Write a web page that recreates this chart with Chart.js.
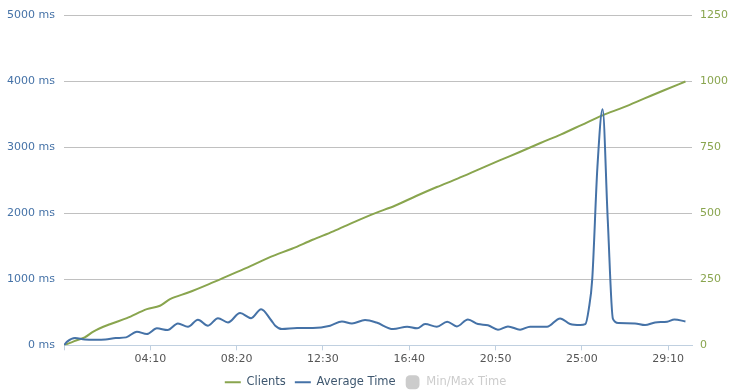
<!DOCTYPE html>
<html>
<head>
<meta charset="utf-8">
<script src="https://cdn.jsdelivr.net/npm/chart.js@4/dist/chart.umd.min.js"></script>
<style>
  html, body { margin: 0; padding: 0; background: #fff; }
  #c { display: block; }
</style>
</head>
<body>
<canvas id="c" width="731" height="391"></canvas>
<script>
// Elapsed time (seconds) and average response time (ms)
const avgTimes = [0, 10, 32, 60, 90, 120, 150, 180, 211, 240, 269, 300, 330, 359, 388, 417, 446, 475, 510, 542, 571, 600, 612, 631, 675, 721, 771, 805, 834, 872, 905, 953, 994, 1023, 1046, 1080, 1110, 1138, 1170, 1199, 1228, 1257, 1286, 1321, 1350, 1399, 1437, 1466, 1495, 1510, 1520, 1530, 1545, 1560, 1575, 1590, 1606, 1654, 1683, 1712, 1747, 1768, 1800];
const avgValues = [0, 60, 110, 88, 85, 88, 110, 120, 207, 171, 257, 232, 332, 282, 388, 297, 412, 347, 488, 412, 548, 380, 297, 246, 261, 261, 297, 362, 332, 382, 345, 246, 282, 257, 322, 282, 358, 287, 393, 322, 305, 237, 287, 237, 282, 282, 408, 322, 307, 320, 550, 1000, 2700, 3580, 1900, 400, 337, 332, 307, 347, 358, 393, 362];

// Elapsed time (seconds) and number of clients
const clientTimes = [0, 30, 60, 85, 133, 182, 240, 278, 307, 360, 420, 480, 540, 600, 660, 720, 780, 840, 900, 960, 1020, 1080, 1140, 1200, 1260, 1320, 1380, 1440, 1500, 1560, 1620, 1680, 1740, 1800];
const clientValues = [0, 16, 30, 52, 80, 103, 137, 150, 175, 200, 232, 266, 300, 336, 366, 400, 432, 467, 500, 530, 566, 600, 632, 666, 700, 733, 767, 800, 836, 872, 902, 935, 968, 1000];

const xTicks = [0, 250, 500, 750, 1000, 1250, 1500, 1750];
const leftTicks = [0, 1000, 2000, 3000, 4000, 5000];
const rightTicks = [0, 250, 500, 750, 1000, 1250];
const seriesNames = ['Clients', 'Average Time', 'Min/Max Time'];

const GREEN = '#89A54E', BLUE = '#4572A7';

function fmt(s) {
  const m = Math.floor(s / 60), r = Math.round(s % 60);
  return String(m).padStart(2, '0') + ':' + String(r).padStart(2, '0');
}

Chart.defaults.font.family = "'DejaVu Sans', Verdana, sans-serif";
Chart.defaults.font.size = 11;

new Chart(document.getElementById('c'), {
  type: 'line',
  data: {
    datasets: [
      {
        label: seriesNames[0],
        data: clientTimes.map((t, i) => ({ x: t, y: clientValues[i] })),
        yAxisID: 'y2',
        borderColor: GREEN, backgroundColor: GREEN,
        borderWidth: 2, pointRadius: 0, cubicInterpolationMode: 'monotone',
        order: 1
      },
      {
        label: seriesNames[1],
        data: avgTimes.map((t, i) => ({ x: t, y: avgValues[i] })),
        yAxisID: 'y',
        borderColor: BLUE, backgroundColor: BLUE,
        borderWidth: 2, pointRadius: 0, cubicInterpolationMode: 'monotone',
        order: 0
      },
      {
        label: seriesNames[2],
        data: [],
        yAxisID: 'y',
        borderColor: '#cccccc', backgroundColor: '#cccccc',
        hidden: true
      }
    ]
  },
  options: {
    responsive: false,
    animation: false,
    layout: { padding: { left: 0, right: 0, top: 10, bottom: -7 } },
    scales: {
      x: {
        type: 'linear', min: 0, max: 1819,
        afterBuildTicks: (s) => { s.ticks = xTicks.map(v => ({ value: v })); },
        ticks: { color: '#555', padding: 2, maxRotation: 0, autoSkip: false,
                 callback: (v) => v === 0 ? '' : fmt(v) },
        grid: { drawOnChartArea: false, drawTicks: true, tickLength: 5, color: '#C0D0E0' },
        border: { color: '#C0D0E0', width: 1 }
      },
      y: {
        position: 'left', min: 0, max: 5000,
        afterBuildTicks: (s) => { s.ticks = leftTicks.map(v => ({ value: v })); },
        ticks: { color: BLUE, padding: 9, callback: (v) => v + ' ms' },
        grid: { color: '#C0C0C0', drawTicks: false },
        border: { display: false },
        afterFit: (s) => { s.width = 64; }
      },
      y2: {
        position: 'right', min: 0, max: 1250,
        afterBuildTicks: (s) => { s.ticks = rightTicks.map(v => ({ value: v })); },
        ticks: { color: GREEN, padding: 8, callback: (v) => String(v) },
        grid: { display: false, drawTicks: false },
        border: { display: false },
        afterFit: (s) => { s.width = 39; }
      }
    },
    plugins: {
      tooltip: { enabled: false },
      legend: {
        position: 'bottom',
        labels: {
          font: { size: 11.5 },
          color: '#3E576F',
          usePointStyle: true,
          pointStyleWidth: 16,
          boxHeight: 12,
          padding: 9,
          generateLabels: (chart) => chart.data.datasets.map((ds, i) => {
            const isRange = i === 2;
            return {
              text: ds.label,
              datasetIndex: i,
              hidden: false,
              fillStyle: ds.borderColor,
              strokeStyle: ds.borderColor,
              lineWidth: isRange ? 0 : 2,
              pointStyle: isRange ? 'rectRounded' : 'line',
              fontColor: isRange ? '#cccccc' : '#3E576F'
            };
          })
        }
      }
    }
  }
});
</script>
</body>
</html>
